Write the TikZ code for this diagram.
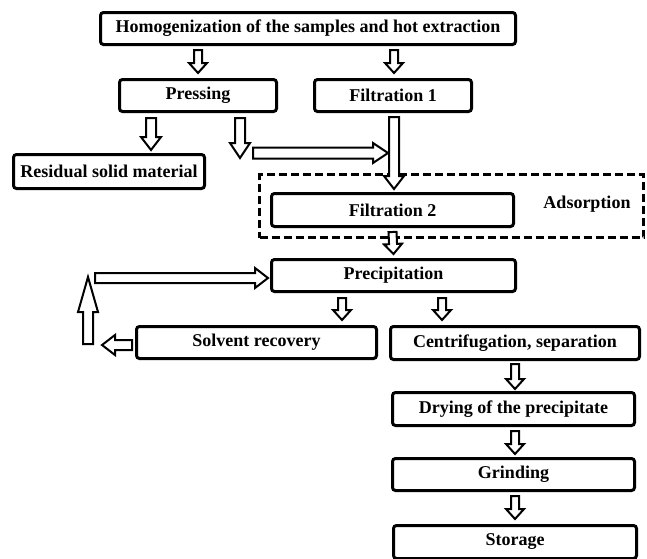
\documentclass[tikz,border=0pt]{standalone}
\usepackage{fontspec}
\setmainfont{Liberation Serif}
\usetikzlibrary{calc}
\newcommand\bx{\fontsize{18}{20}\selectfont\bfseries}
\tikzset{
  box/.style={draw, line width=3pt, rounded corners=3pt, inner sep=0pt, font=\bx, align=center, fill=white},
  dashbox/.style={draw, line width=3pt, dash pattern=on 8pt off 4pt, inner sep=0pt},
  blockarrow/.style={draw, line width=2pt, fill=white, line join=miter}
}
\newcommand\barrow[5]{%
  \coordinate (bs) at (#1);
  \coordinate (be) at (#2);
  \coordinate (bh) at ($(be)!#5pt!(bs)$);
  \draw[blockarrow] ($(bs)!#3pt!90:(be)$) -- ($(bh)!#3pt!90:(be)$) -- ($(bh)!#4pt!90:(be)$)
     -- (be) -- ($(bh)!#4pt!-90:(be)$) -- ($(bh)!#3pt!-90:(be)$) -- ($(bs)!#3pt!-90:(be)$) -- cycle;
}
\begin{document}
\begin{tikzpicture}[x=1pt, y=-1pt]
\useasboundingbox[fill=white] (0,0) rectangle (647,558);
% dashed adsorption frame
\node[dashbox, minimum width=384pt, minimum height=63pt] (ads) at (451.5,206) {};
\node[font=\bx] (adst) at (587,204) {Adsorption};
% boxes
\node[box, minimum width=415pt, minimum height=32pt] (hom) at (308,28.5) {Homogenization of the samples and hot extraction};
\node[box, minimum width=157pt, minimum height=32pt] (pres) at (198,95.5) {Pressing};
\node[box, minimum width=157pt, minimum height=32pt] (filt1) at (393,95.5) {Filtration 1};
\node[box, minimum width=191pt, minimum height=34pt] (resid) at (109,171.5) {Residual solid material};
\node[box, minimum width=242pt, minimum height=33pt] (filt2) at (392.5,210) {Filtration 2};
\node[box, minimum width=244pt, minimum height=32pt] (prec) at (393.5,275.5) {Precipitation};
\node[box, minimum width=240pt, minimum height=32pt] (solv) at (256.5,342.5) {Solvent recovery};
\node[box, minimum width=249pt, minimum height=33pt] (cent) at (515,343) {Centrifugation, separation};
\node[box, minimum width=242pt, minimum height=33pt] (dry) at (513.5,409) {Drying of the precipitate};
\node[box, minimum width=242pt, minimum height=32pt] (grind) at (513.5,474.5) {Grinding};
\node[box, minimum width=243pt, minimum height=33pt] (stor) at (515,542) {Storage};
% free ends
\coordinate (pj) at (240,158);
\coordinate (hj1) at (253,153);
\coordinate (hj2) at (388,153);
\coordinate (sl) at (102,345);
\coordinate (lu1) at (88,344);
\coordinate (lu2) at (88,277);
\coordinate (lt) at (95,278);
% arrows
\barrow{$(hom.south -| pres)+(0,4)$}{$(pres.north)+(0,-5)$}{4}{9}{10}
\barrow{$(hom.south -| filt1)+(1,4)$}{$(filt1.north)+(1,-5)$}{4}{9}{10}
\barrow{$(151,0 |- pres.south)+(0,5)$}{$(151,0 |- resid.north)+(0,-3)$}{5}{10}{13}
\barrow{$(240,0 |- pres.south)+(0,5)$}{pj}{5}{10}{15}
\barrow{hj1}{hj2}{5.5}{10}{15}
\barrow{$(filt1.south)+(1,4)$}{$(filt2.north -| filt1)+(1,-3)$}{5}{10}{13}
\barrow{$(filt2.south)+(0,4)$}{$(prec.north)+(0,-4)$}{4}{9}{10}
\barrow{$(342,0 |- prec.south)+(0,5)$}{$(342,0 |- solv.north)+(0,-5)$}{4}{9}{10}
\barrow{$(442,0 |- prec.south)+(0,5)$}{$(442,0 |- cent.north)+(0,-5)$}{4}{9}{10}
\barrow{$(solv.west |- sl)+(-3,0)$}{sl}{5}{10}{13}
\barrow{lu1}{lu2}{5}{10}{35}
\barrow{lt}{$(prec.west |- lt)+(-2,0)$}{5}{10}{13}
\barrow{$(cent.south)+(0,3)$}{$(dry.north -| cent)+(0,-2)$}{4}{9}{10}
\barrow{$(dry.south -| cent)+(0,4)$}{$(grind.north -| cent)+(0,-3)$}{4}{9}{10}
\barrow{$(grind.south -| cent)+(0,4)$}{$(stor.north -| cent)+(0,-5)$}{4}{9}{10}
\end{tikzpicture}
\end{document}
